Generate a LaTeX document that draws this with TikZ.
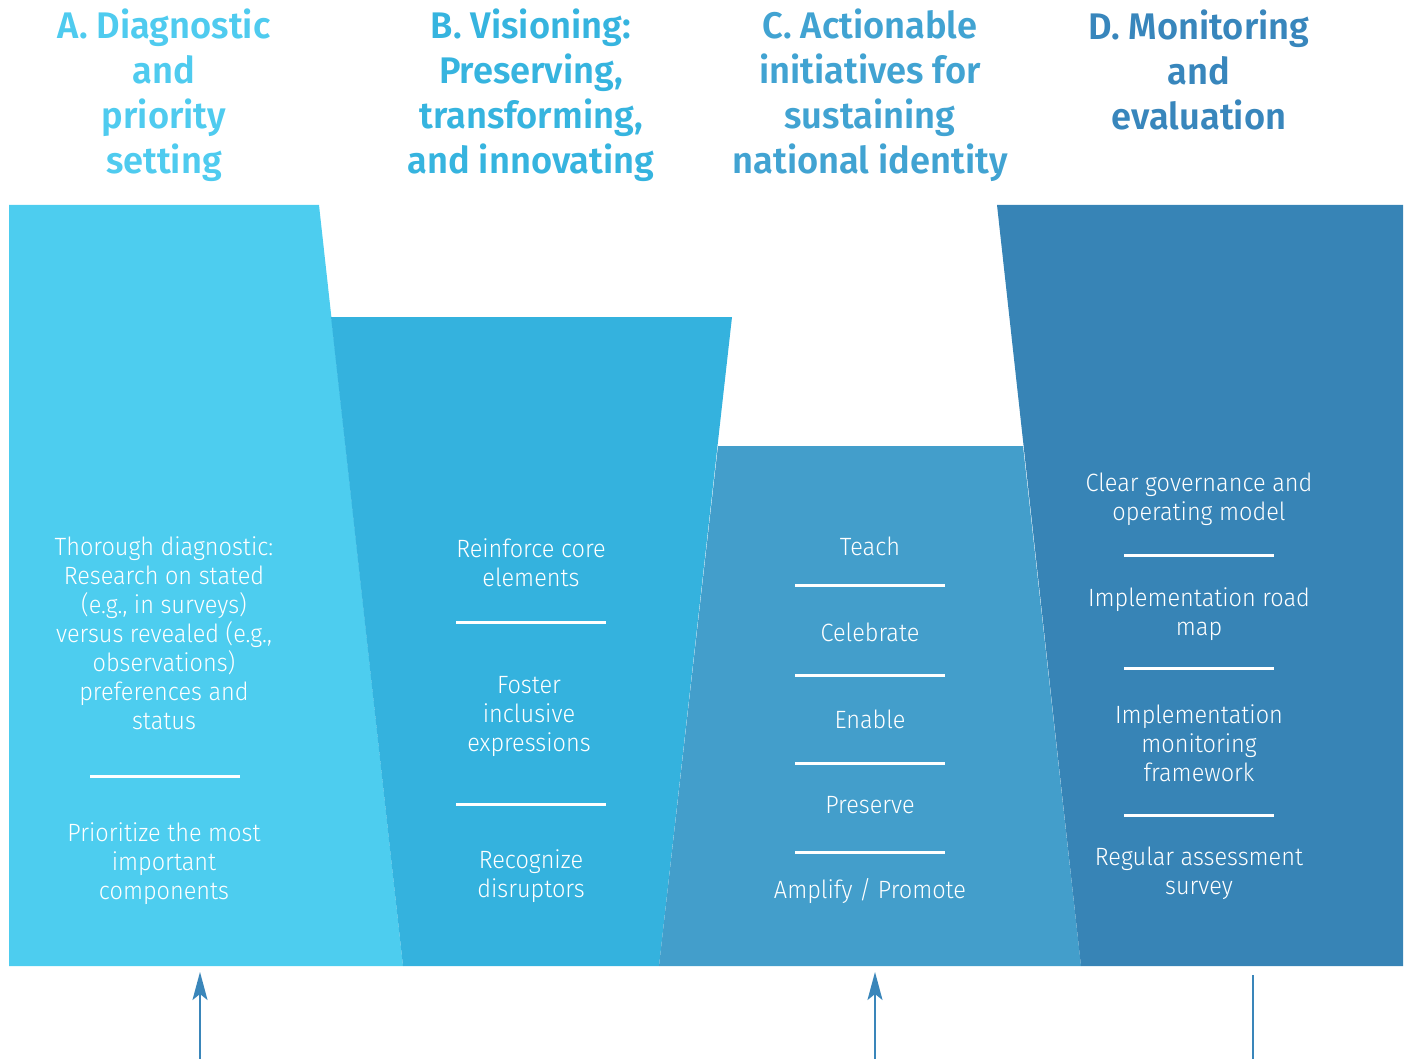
\documentclass[tikz,border=0pt]{standalone}
\usepackage{fontspec}
\setmainfont{Fira Sans}
\newfontfamily\bodyfont{Fira Sans Light}[FakeStretch=0.94]
\newfontfamily\headfont{Fira Sans SemiBold}[FakeStretch=0.98]
\usetikzlibrary{arrows.meta}
\definecolor{fillA}{HTML}{4DCDEF}
\definecolor{fillB}{HTML}{34B2DE}
\definecolor{fillC}{HTML}{439ECB}
\definecolor{fillD}{HTML}{3784B6}
\definecolor{headA}{HTML}{4FCBEF}
\definecolor{headB}{HTML}{36B4DF}
\definecolor{headC}{HTML}{41A3D2}
\definecolor{headD}{HTML}{3886BC}
\definecolor{arrowcol}{HTML}{3A86BA}
\tikzset{
  head/.style={align=center, inner sep=0pt, font=\headfont\fontsize{37}{45}\selectfont},
  body/.style={align=center, inner sep=0pt, text=white, font=\bodyfont\fontsize{25}{29}\selectfont},
  sep/.style={draw=white, line width=3pt},
  uparrow/.style={draw=arrowcol, line width=2pt, -{Stealth[length=28pt,width=15pt,inset=6pt]}},
  plainline/.style={draw=arrowcol, line width=2pt}
}
\begin{document}
\begin{tikzpicture}[x=1pt,y=-1pt]
\useasboundingbox (0,0) rectangle (1408,1059);
% panels
\fill[fillA] (9,205) -- (319,205) -- (403,966) -- (9,966) -- cycle;
\fill[fillB] (331,317) -- (732,317) -- (659,966) -- (403,966) -- cycle;
\fill[fillC] (718,446) -- (1023,446) -- (1081,966) -- (659,966) -- cycle;
\fill[fillD] (997,205) -- (1403,205) -- (1403,966) -- (1081,966) -- cycle;
% headers
\node[head, text=headA] (hA) at (164,95) {A. Diagnostic\\and\\priority\\setting};
\node[head, text=headB] (hB) at (531,95) {B. Visioning:\\Preserving,\\transforming,\\and innovating};
\node[head, text=headC] (hC) at (870,95) {C. Actionable\\initiatives for\\sustaining\\national identity};
\node[head, text=headD] (hD) at (1199,70) {D. Monitoring\\and\\evaluation};
% A body
\node[body] (a1) at (164,633) {Thorough diagnostic:\\Research on stated\\(e.g., in surveys)\\versus revealed (e.g.,\\observations)\\preferences and\\status};
\draw[sep] (90,776) -- (240,776);
\node[body] (a2) at (164,864) {Prioritize the most\\important\\components};
% B body
\node[body] (b1) at (531,563) {Reinforce core\\elements};
\draw[sep] (456,622) -- (606,622);
\node[body] (b2) at (529,716) {Foster\\inclusive\\expressions};
\draw[sep] (456,804) -- (606,804);
\node[body] (b3) at (531,876) {Recognize\\disruptors};
% C body
\node[body] (c1) at (870,546) {Teach};
\draw[sep] (795,585) -- (945,585);
\node[body] (c2) at (870,632) {Celebrate};
\draw[sep] (795,675) -- (945,675);
\node[body] (c3) at (870,719) {Enable};
\draw[sep] (795,763) -- (945,763);
\node[body] (c4) at (870,805) {Preserve};
\draw[sep] (795,852) -- (945,852);
\node[body] (c5) at (870,891) {Amplify / Promote};
% D body
\node[body] (d1) at (1199,499) {Clear governance and\\operating model};
\draw[sep] (1124,555) -- (1274,555);
\node[body] (d2) at (1199,614) {Implementation road\\map};
\draw[sep] (1124,668) -- (1274,668);
\node[body] (d3) at (1199,743) {Implementation\\monitoring\\framework};
\draw[sep] (1124,815) -- (1274,815);
\node[body] (d4) at (1199,873) {Regular assessment\\survey};
% arrows
\coordinate (aS) at (200,1059);
\coordinate (aE) at (200,972);
\coordinate (cS) at (875,1059);
\coordinate (cE) at (875,972);
\coordinate (dS) at (1253,1059);
\coordinate (dE) at (1253,975);
\draw[uparrow] (aS) -- (aE);
\draw[uparrow] (cS) -- (cE);
\draw[plainline] (dS) -- (dE);
\end{tikzpicture}
\end{document}
